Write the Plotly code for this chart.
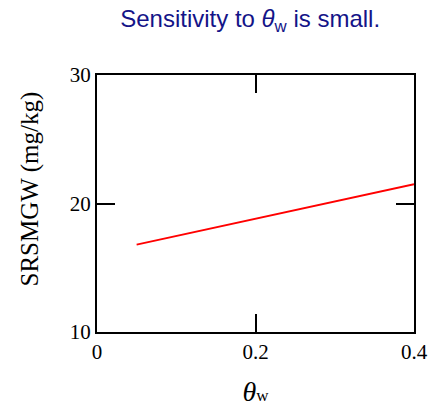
import plotly.graph_objects as go

# Water content values and corresponding SRSMGW (mg/kg)
theta_w = [0.05, 0.1, 0.2, 0.3, 0.4]
srsmgw = [16.8, 17.47, 18.84, 20.17, 21.5]

x_ticks = [0, 0.2, 0.4]
x_tick_labels = ["0", "0.2", "0.4"]
y_ticks = [10, 20, 30]
y_tick_labels = ["10", "20", "30"]

fig = go.Figure()
fig.add_trace(go.Scatter(x=theta_w, y=srsmgw, mode="lines",
                         line=dict(color="#ff0000", width=2), showlegend=False))

serif = "Liberation Serif, Times New Roman, serif"
axis_common = dict(showgrid=False, zeroline=False, showline=True, linecolor="black",
                   linewidth=2, mirror="ticks", ticks="inside", ticklen=18, tickwidth=2,
                   tickcolor="black", automargin=False,
                   tickfont=dict(family=serif, size=21, color="black"))

fig.update_xaxes(range=[0, 0.4], tickvals=x_ticks, ticktext=x_tick_labels,
                 title=dict(text="<i>θ</i><span style='font-size:17px'>w</span>",
                            font=dict(family=serif, size=28, color="black"), standoff=18),
                 **axis_common)
fig.update_yaxes(range=[10, 30], tickvals=y_ticks, ticktext=y_tick_labels, **axis_common)

# y-axis title, placed slightly above the vertical centre of the plot
fig.add_annotation(text="SRSMGW (mg/kg)", textangle=-90, showarrow=False,
                   xref="paper", yref="paper", x=-0.211, y=0.555,
                   xanchor="center", yanchor="middle",
                   font=dict(family=serif, size=25, color="black"))

fig.update_layout(
    width=435, height=413,
    margin=dict(l=97, r=21, t=75, b=81),
    plot_bgcolor="white", paper_bgcolor="white",
    title=dict(text="Sensitivity to <i>θ</i><sub>w</sub> is small.",
               font=dict(family="Liberation Sans, Arial, sans-serif", size=24, color="#141488"),
               x=0.575, xanchor="center", y=0.955, yanchor="middle"),
)

fig.write_html("out.html")
